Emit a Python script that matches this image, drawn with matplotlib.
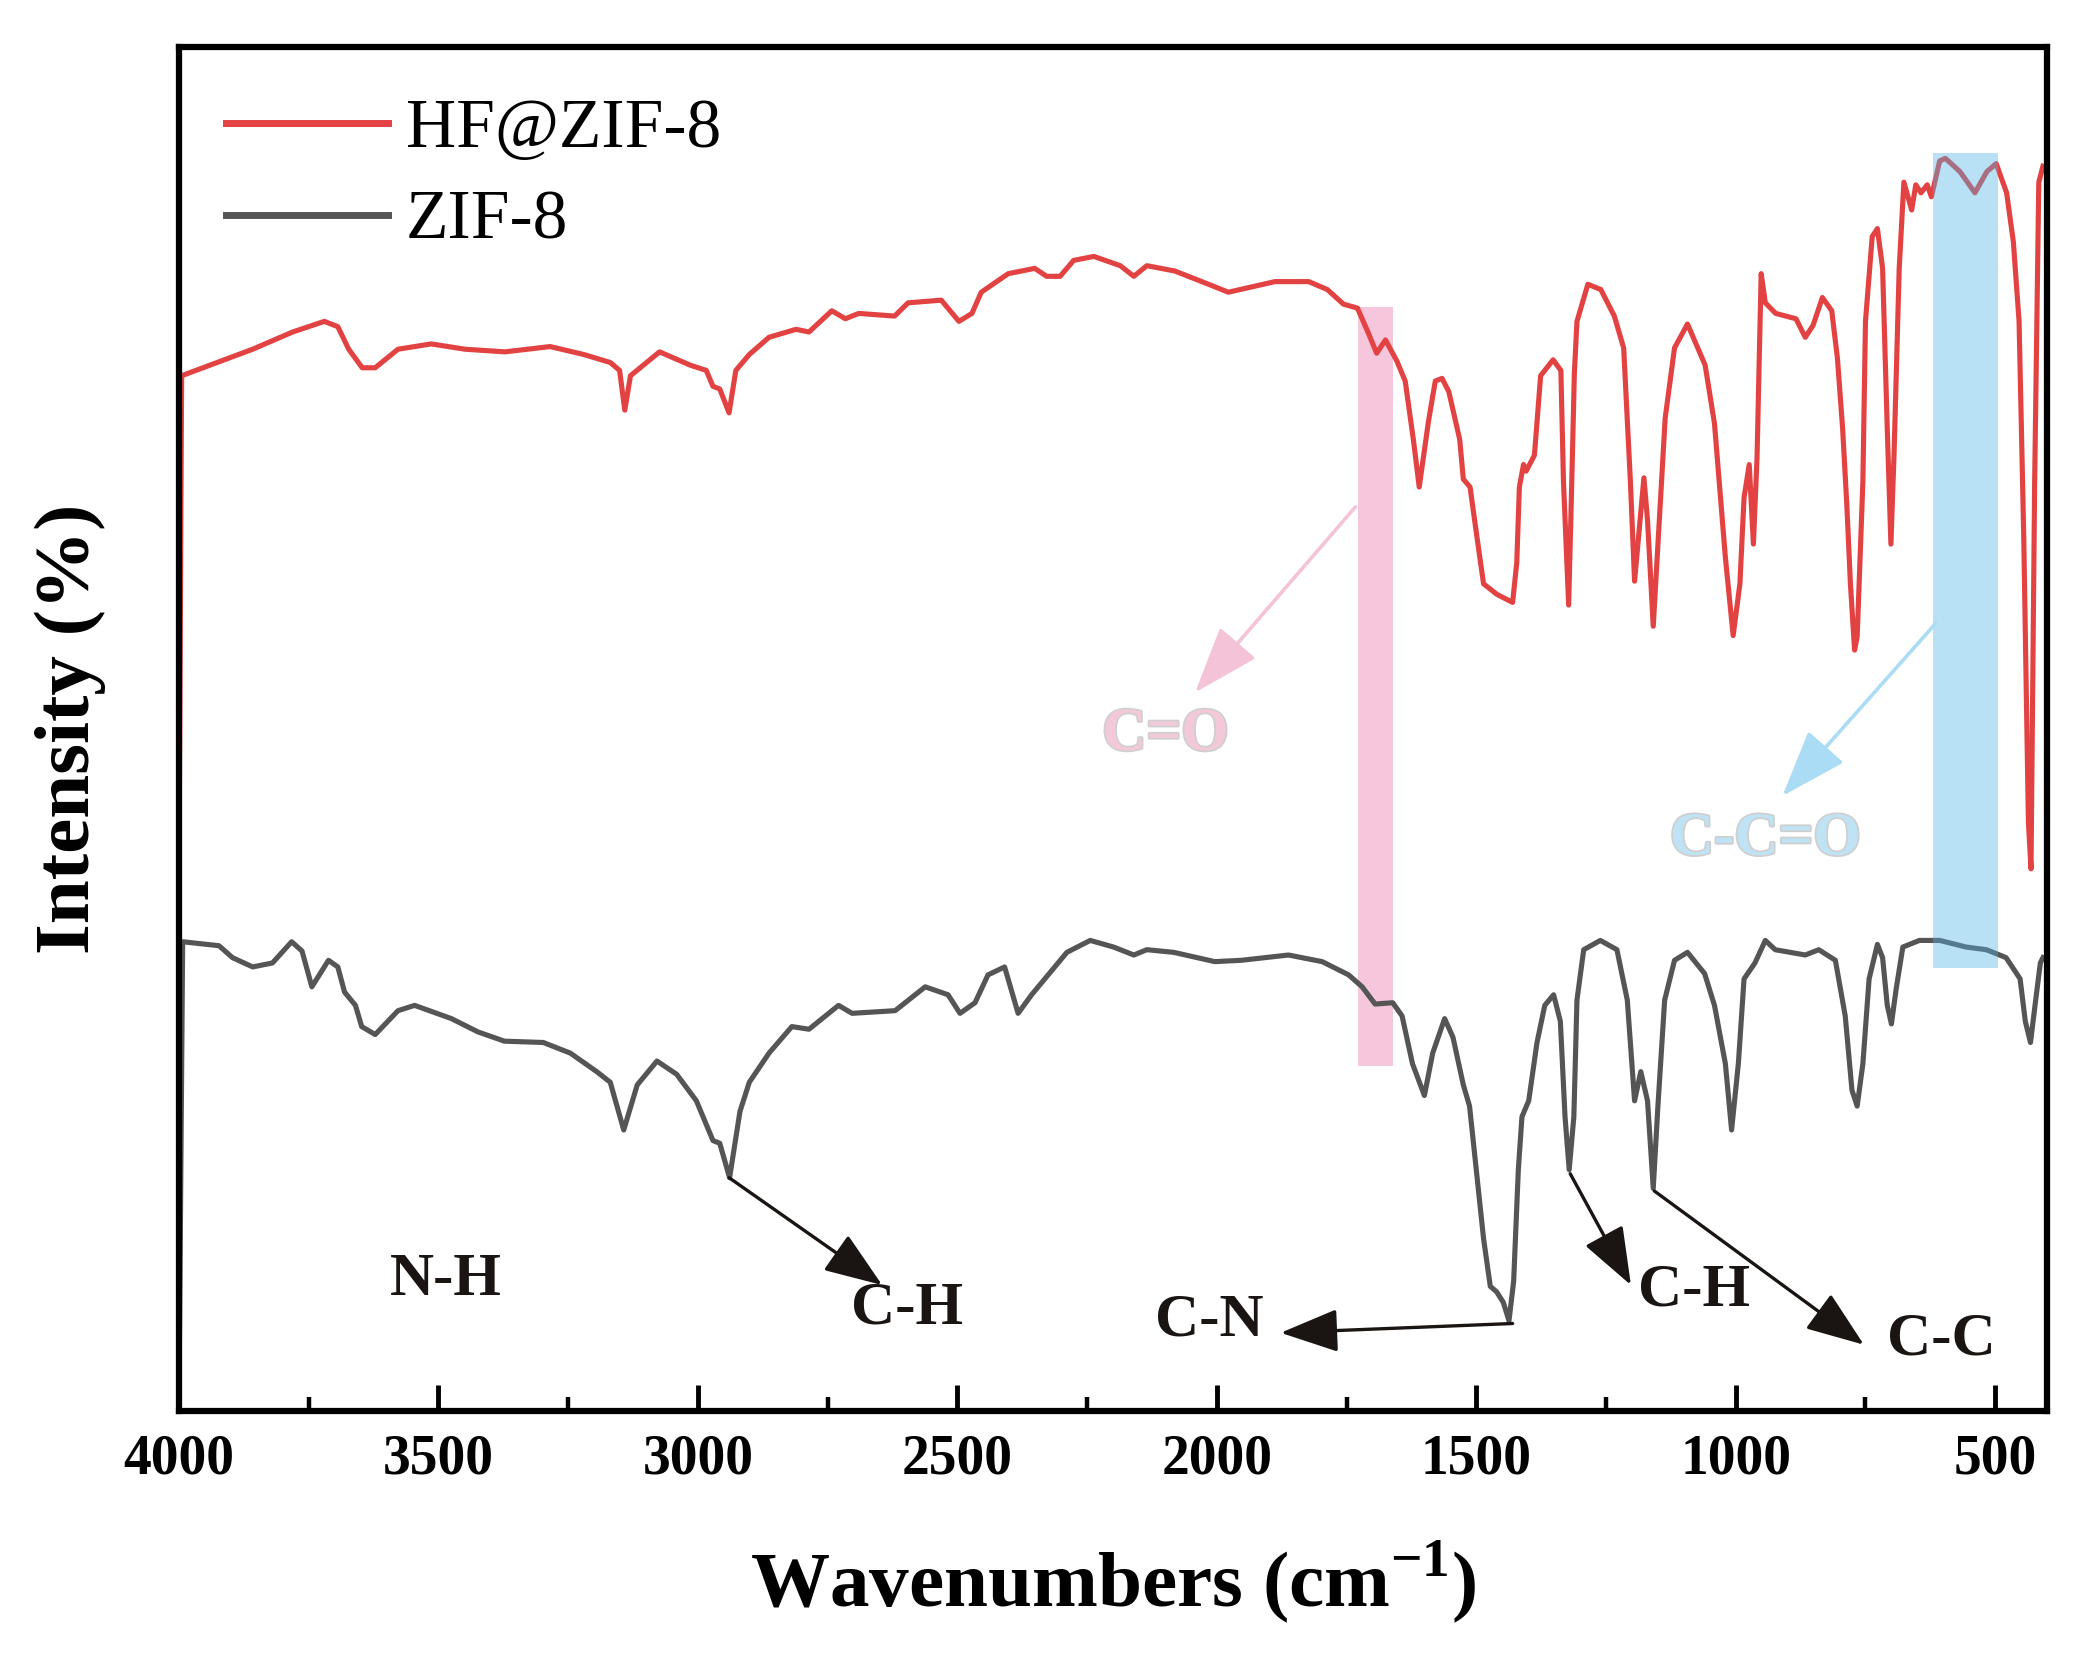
import matplotlib
matplotlib.use("Agg")  # sin ventana
import matplotlib.pyplot as plt
import matplotlib.patheffects as pe
from matplotlib.patches import Rectangle
from matplotlib.ticker import MultipleLocator

plt.rcParams['font.family'] = ['Liberation Serif', 'DejaVu Serif']
plt.rcParams['font.weight'] = 'bold'
plt.rcParams['mathtext.fontset'] = 'custom'
plt.rcParams['mathtext.rm'] = 'Liberation Serif'
plt.rcParams['mathtext.bf'] = 'Liberation Serif:bold'

# --- datos (numero de onda, intensidad en u.a.) ---
hf_wn = [4000, 3995, 3858, 3781, 3720, 3694, 3673, 3647, 3622, 3578, 3514, 3449,
         3372, 3285, 3220, 3169, 3151, 3141, 3130, 3074, 3015, 2984, 2971, 2958,
         2940, 2927, 2901, 2863, 2811, 2786, 2742, 2716, 2690, 2621, 2595, 2531,
         2497, 2472, 2454, 2402, 2351, 2328, 2302, 2276, 2237, 2186, 2160, 2135,
         2081, 2016, 1978, 1888, 1823, 1787, 1756, 1729, 1710, 1692, 1675, 1653,
         1637, 1621, 1610, 1592, 1579, 1566, 1553, 1532, 1525, 1512, 1499, 1486,
         1460, 1430, 1422, 1417, 1409, 1404, 1388, 1376, 1352, 1337, 1332, 1322,
         1316, 1311, 1306, 1285, 1260, 1234, 1216, 1203, 1195, 1185, 1177, 1170,
         1159, 1149, 1136, 1118, 1093, 1059, 1041, 1020, 1005, 992, 984, 974, 966,
         959, 951, 943, 923, 884, 866, 851, 833, 815, 804, 794, 786, 779, 771, 766,
         755, 750, 737, 727, 717, 708, 701, 695, 685, 676, 661, 653, 643, 631, 623,
         607, 596, 568, 539, 516, 498, 478, 465, 454, 445, 436, 431, 424, 416, 408]
hf_int = [409, 781, 801, 814, 822, 818, 801, 787, 787, 801, 805, 801,
          799, 803, 797, 791, 785, 755, 781, 799, 789, 785, 773, 771,
          753, 785, 797, 810, 816, 814, 830, 824, 828, 826, 836, 838,
          822, 828, 844, 858, 862, 856, 856, 868, 871, 864, 856, 864,
          860, 850, 844, 852, 852, 846, 835, 832, 815, 798, 808, 792,
          777, 732, 697, 747, 777, 779, 769, 733, 703, 697, 660, 624,
          616, 610, 640, 697, 714, 709, 721, 781, 793, 785, 701, 608,
          701, 783, 822, 850, 846, 826, 802, 701, 626, 669, 704, 672,
          592, 660, 749, 802, 820, 789, 745, 644, 585, 624, 689, 714, 654,
          719, 858, 836, 828, 824, 810, 819, 840, 830, 794, 741, 684, 624, 574, 584,
          701, 822, 886, 892, 862, 741, 654, 721, 862, 927, 906, 925, 919, 925, 916,
          943, 945, 935, 919, 935, 941, 919, 882, 822, 660, 444, 409, 700, 927, 939]

zif_wn = [4000, 3993, 3923, 3897, 3858, 3820, 3783, 3763, 3744, 3712, 3694, 3681,
          3660, 3648, 3622, 3578, 3546, 3475, 3424, 3373, 3298, 3246, 3195, 3169,
          3143, 3117, 3079, 3041, 3003, 2971, 2958, 2939, 2919, 2901, 2863, 2819,
          2786, 2729, 2703, 2620, 2562, 2518, 2495, 2466, 2441, 2409, 2383, 2357,
          2289, 2244, 2199, 2160, 2135, 2083, 2004, 1953, 1862, 1797, 1746, 1720,
          1695, 1661, 1643, 1623, 1600, 1584, 1561, 1545, 1525, 1513, 1500, 1486,
          1473, 1461, 1448, 1437, 1428, 1419, 1412, 1399, 1383, 1368, 1351, 1338,
          1329, 1321, 1312, 1306, 1293, 1261, 1229, 1209, 1195, 1183, 1170, 1159,
          1150, 1137, 1118, 1093, 1060, 1041, 1020, 1008, 995, 984, 963, 943, 924,
          866, 840, 808, 789, 776, 766, 755, 743, 727, 717, 708, 700, 691, 678,
          646, 607, 556, 517, 479, 452, 442, 432, 422, 413, 408]
zif_int = [10, 354, 351, 342, 335, 338, 354, 347, 320, 340, 335, 316,
           306, 290, 284, 302, 306, 296, 286, 279, 278, 270, 256, 248,
           212, 246, 264, 254, 234, 204, 202, 176, 226, 248, 270, 290,
           288, 306, 300, 302, 320, 314, 300, 308, 329, 335, 300, 314,
           346, 355, 350, 344, 348, 346, 339, 340, 344, 339, 329, 320,
           307, 308, 298, 262, 238, 270, 296, 282, 246, 230, 182, 130,
           94, 90, 82, 68, 98, 182, 222, 234, 278, 306, 314, 294,
           222, 182, 222, 310, 348, 355, 348, 310, 234, 256, 234, 168,
           230, 310, 340, 346, 330, 306, 262, 212, 262, 326, 338, 355, 348,
           344, 348, 340, 298, 242, 230, 262, 326, 352, 342, 306, 292, 318, 350,
           355, 355, 350, 348, 342, 326, 294, 278, 310, 338, 342]

series_labels = ["HF@ZIF-8", "ZIF-8"]

# bandas resaltadas: (wn izq, wn der, int inf, int sup)
band_co = (1728, 1660, 260, 833)
band_cco = (620, 495, 334, 949)

# etiquetas de grupos funcionales: (texto, wn, intensidad)
black_labels = [("N-H", 3485, 99), ("C-H", 2598, 77), ("C-N", 2014, 68),
                ("C-H", 1080, 91), ("C-C", 604, 54)]
# flechas negras: (wn cola, int cola, wn punta, int punta)
black_arrows = [(2940, 176, 2645, 95), (1430, 66, 1877, 59),
                (1319, 179, 1202, 95), (1157, 166, 753, 50)]

fig = plt.figure(figsize=(20.77, 16.72), dpi=100)
ax = fig.add_axes([0.0862, 0.1561, 0.8994, 0.8158])

ax.add_patch(Rectangle((band_co[1], band_co[2]), band_co[0] - band_co[1],
                       band_co[3] - band_co[2], facecolor="#f6c6dc",
                       edgecolor="none", zorder=1))

ax.plot(hf_wn, hf_int, color="#e34242", linewidth=3.7, zorder=2,
        label=series_labels[0])
ax.plot(zif_wn, zif_int, color="#555555", linewidth=3.7, zorder=2,
        label=series_labels[1])

ax.add_patch(Rectangle((band_cco[1], band_cco[2]), band_cco[0] - band_cco[1],
                       band_cco[3] - band_cco[2], facecolor="#50b4e6",
                       alpha=0.4, edgecolor="none", zorder=3))

ax.set_xlim(4000, 400)
ax.set_ylim(0, 1029)
ax.xaxis.set_major_locator(MultipleLocator(500))
ax.xaxis.set_minor_locator(MultipleLocator(250))
ax.set_yticks([])
ax.tick_params(axis="x", which="major", direction="in", length=19, width=3.5,
               labelsize=40, pad=16)
ax.tick_params(axis="x", which="minor", direction="in", length=10, width=3.2)
for sp in ax.spines.values():
    sp.set_linewidth(4.5)

ax.set_xlabel(r"Wavenumbers (cm$^{-1}$)", fontsize=57, fontweight="bold")
ax.xaxis.set_label_coords(0.5, -0.093)
ax.set_ylabel("Intensity (%)", fontsize=57, fontweight="bold")
ax.yaxis.set_label_coords(-0.039, 0.5)

leg = ax.legend(loc="upper left", bbox_to_anchor=(0.0254, 0.962), frameon=False,
                prop={"family": "Liberation Serif", "weight": "normal", "size": 50},
                handlelength=2.33, handletextpad=0.25, labelspacing=0.4,
                borderpad=0, borderaxespad=0)
for ln in leg.get_lines():
    ln.set_linewidth(5)

for texto, wn, y in black_labels:
    ax.text(wn, y, texto, fontsize=44, fontweight="bold", color="#1a1512",
            ha="center", va="center", zorder=5)
for x0, y0, x1, y1 in black_arrows:
    ax.annotate("", xy=(x1, y1), xytext=(x0, y0),
                arrowprops=dict(arrowstyle="-|>,head_length=1.2,head_width=0.45",
                                mutation_scale=30, lw=2.4, color="#1a1512",
                                shrinkA=0, shrinkB=0), zorder=5)

# etiquetas claras de las bandas resaltadas
ax.annotate("", xy=(2042, 542), xytext=(1733, 682),
            arrowprops=dict(arrowstyle="-|>,head_length=1.4,head_width=0.5",
                            mutation_scale=30, lw=2.6, color="#f5c3d7",
                            shrinkA=0, shrinkB=0), zorder=4)
ax.text(2099, 510, "C=O", fontsize=44, fontweight="bold", color="#f3c9da",
        ha="center", va="center", zorder=4,
        path_effects=[pe.withStroke(linewidth=2.5, foreground="#cfcfcf")])
ax.annotate("", xy=(910, 464), xytext=(615, 594),
            arrowprops=dict(arrowstyle="-|>,head_length=1.4,head_width=0.5",
                            mutation_scale=30, lw=2.6, color="#aadcf5",
                            shrinkA=0, shrinkB=0), zorder=4)
ax.text(943, 431, "C-C=O", fontsize=44, fontweight="bold", color="#bfe3f5",
        ha="center", va="center", zorder=4,
        path_effects=[pe.withStroke(linewidth=2.5, foreground="#cfcfcf")])

fig.savefig("out.png", dpi=100)
